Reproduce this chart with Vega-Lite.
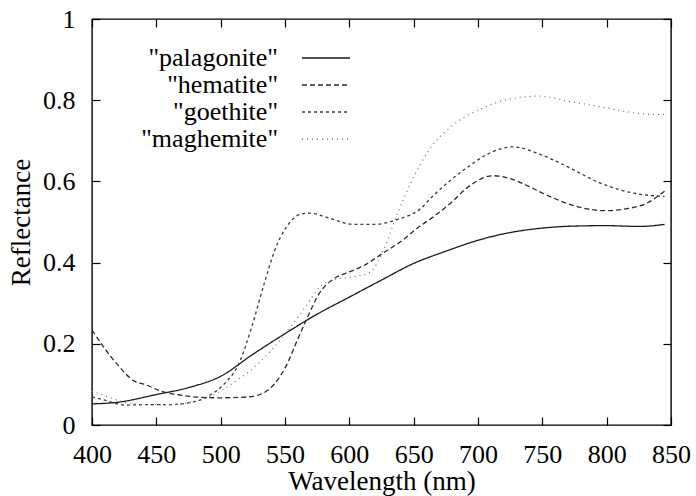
{
  "$schema": "https://vega.github.io/schema/vega-lite/v6.json",
  "width": 579,
  "height": 406,
  "autosize": "none",
  "padding": {"left": 92, "top": 19, "right": 25, "bottom": 71},
  "background": "white",
  "config": {
    "view": {"stroke": "black", "strokeWidth": 1.4},
    "font": "Liberation Serif"
  },
  "data": {
    "values": [
      {"mineral": "palagonite", "wavelength": 400, "reflectance": 0.052},
      {"mineral": "palagonite", "wavelength": 420, "reflectance": 0.056},
      {"mineral": "palagonite", "wavelength": 450, "reflectance": 0.075},
      {"mineral": "palagonite", "wavelength": 475, "reflectance": 0.092},
      {"mineral": "palagonite", "wavelength": 500, "reflectance": 0.12},
      {"mineral": "palagonite", "wavelength": 525, "reflectance": 0.174},
      {"mineral": "palagonite", "wavelength": 550, "reflectance": 0.225},
      {"mineral": "palagonite", "wavelength": 575, "reflectance": 0.273},
      {"mineral": "palagonite", "wavelength": 600, "reflectance": 0.315},
      {"mineral": "palagonite", "wavelength": 625, "reflectance": 0.357},
      {"mineral": "palagonite", "wavelength": 650, "reflectance": 0.398},
      {"mineral": "palagonite", "wavelength": 675, "reflectance": 0.428},
      {"mineral": "palagonite", "wavelength": 700, "reflectance": 0.455},
      {"mineral": "palagonite", "wavelength": 725, "reflectance": 0.474},
      {"mineral": "palagonite", "wavelength": 750, "reflectance": 0.485},
      {"mineral": "palagonite", "wavelength": 775, "reflectance": 0.49},
      {"mineral": "palagonite", "wavelength": 800, "reflectance": 0.491},
      {"mineral": "palagonite", "wavelength": 825, "reflectance": 0.489},
      {"mineral": "palagonite", "wavelength": 845, "reflectance": 0.494},
      {"mineral": "hematite", "wavelength": 400, "reflectance": 0.234},
      {"mineral": "hematite", "wavelength": 410, "reflectance": 0.188},
      {"mineral": "hematite", "wavelength": 420, "reflectance": 0.148},
      {"mineral": "hematite", "wavelength": 433, "reflectance": 0.108},
      {"mineral": "hematite", "wavelength": 441, "reflectance": 0.1},
      {"mineral": "hematite", "wavelength": 454, "reflectance": 0.083},
      {"mineral": "hematite", "wavelength": 470, "reflectance": 0.073},
      {"mineral": "hematite", "wavelength": 485, "reflectance": 0.068},
      {"mineral": "hematite", "wavelength": 500, "reflectance": 0.067},
      {"mineral": "hematite", "wavelength": 520, "reflectance": 0.069},
      {"mineral": "hematite", "wavelength": 532, "reflectance": 0.077},
      {"mineral": "hematite", "wavelength": 542, "reflectance": 0.102},
      {"mineral": "hematite", "wavelength": 550, "reflectance": 0.14},
      {"mineral": "hematite", "wavelength": 560, "reflectance": 0.212},
      {"mineral": "hematite", "wavelength": 567, "reflectance": 0.262},
      {"mineral": "hematite", "wavelength": 577, "reflectance": 0.326},
      {"mineral": "hematite", "wavelength": 588, "reflectance": 0.36},
      {"mineral": "hematite", "wavelength": 600, "reflectance": 0.377},
      {"mineral": "hematite", "wavelength": 612, "reflectance": 0.394},
      {"mineral": "hematite", "wavelength": 626, "reflectance": 0.423},
      {"mineral": "hematite", "wavelength": 640, "reflectance": 0.452},
      {"mineral": "hematite", "wavelength": 655, "reflectance": 0.49},
      {"mineral": "hematite", "wavelength": 665, "reflectance": 0.512},
      {"mineral": "hematite", "wavelength": 680, "reflectance": 0.55},
      {"mineral": "hematite", "wavelength": 691, "reflectance": 0.583},
      {"mineral": "hematite", "wavelength": 712, "reflectance": 0.614},
      {"mineral": "hematite", "wavelength": 725, "reflectance": 0.607},
      {"mineral": "hematite", "wavelength": 740, "reflectance": 0.587},
      {"mineral": "hematite", "wavelength": 753, "reflectance": 0.567},
      {"mineral": "hematite", "wavelength": 777, "reflectance": 0.538},
      {"mineral": "hematite", "wavelength": 798, "reflectance": 0.528},
      {"mineral": "hematite", "wavelength": 816, "reflectance": 0.533},
      {"mineral": "hematite", "wavelength": 831, "reflectance": 0.546},
      {"mineral": "hematite", "wavelength": 845, "reflectance": 0.576},
      {"mineral": "goethite", "wavelength": 400, "reflectance": 0.069},
      {"mineral": "goethite", "wavelength": 410, "reflectance": 0.061},
      {"mineral": "goethite", "wavelength": 426, "reflectance": 0.049},
      {"mineral": "goethite", "wavelength": 441, "reflectance": 0.05},
      {"mineral": "goethite", "wavelength": 457, "reflectance": 0.05},
      {"mineral": "goethite", "wavelength": 472, "reflectance": 0.053},
      {"mineral": "goethite", "wavelength": 488, "reflectance": 0.067},
      {"mineral": "goethite", "wavelength": 503, "reflectance": 0.102},
      {"mineral": "goethite", "wavelength": 514, "reflectance": 0.15},
      {"mineral": "goethite", "wavelength": 524, "reflectance": 0.24},
      {"mineral": "goethite", "wavelength": 534, "reflectance": 0.35},
      {"mineral": "goethite", "wavelength": 542, "reflectance": 0.43},
      {"mineral": "goethite", "wavelength": 551, "reflectance": 0.487},
      {"mineral": "goethite", "wavelength": 561, "reflectance": 0.518},
      {"mineral": "goethite", "wavelength": 569, "reflectance": 0.522},
      {"mineral": "goethite", "wavelength": 585, "reflectance": 0.509},
      {"mineral": "goethite", "wavelength": 603, "reflectance": 0.494},
      {"mineral": "goethite", "wavelength": 619, "reflectance": 0.494},
      {"mineral": "goethite", "wavelength": 637, "reflectance": 0.506},
      {"mineral": "goethite", "wavelength": 655, "reflectance": 0.532},
      {"mineral": "goethite", "wavelength": 665, "reflectance": 0.564},
      {"mineral": "goethite", "wavelength": 691, "reflectance": 0.633},
      {"mineral": "goethite", "wavelength": 712, "reflectance": 0.674},
      {"mineral": "goethite", "wavelength": 727, "reflectance": 0.685},
      {"mineral": "goethite", "wavelength": 748, "reflectance": 0.667},
      {"mineral": "goethite", "wavelength": 769, "reflectance": 0.637},
      {"mineral": "goethite", "wavelength": 795, "reflectance": 0.596},
      {"mineral": "goethite", "wavelength": 821, "reflectance": 0.571},
      {"mineral": "goethite", "wavelength": 845, "reflectance": 0.563},
      {"mineral": "maghemite", "wavelength": 400, "reflectance": 0.083},
      {"mineral": "maghemite", "wavelength": 410, "reflectance": 0.072},
      {"mineral": "maghemite", "wavelength": 426, "reflectance": 0.056},
      {"mineral": "maghemite", "wavelength": 446, "reflectance": 0.05},
      {"mineral": "maghemite", "wavelength": 462, "reflectance": 0.05},
      {"mineral": "maghemite", "wavelength": 478, "reflectance": 0.057},
      {"mineral": "maghemite", "wavelength": 493, "reflectance": 0.072},
      {"mineral": "maghemite", "wavelength": 509, "reflectance": 0.102},
      {"mineral": "maghemite", "wavelength": 529, "reflectance": 0.151},
      {"mineral": "maghemite", "wavelength": 549, "reflectance": 0.219},
      {"mineral": "maghemite", "wavelength": 567, "reflectance": 0.296},
      {"mineral": "maghemite", "wavelength": 577, "reflectance": 0.34},
      {"mineral": "maghemite", "wavelength": 588, "reflectance": 0.358},
      {"mineral": "maghemite", "wavelength": 603, "reflectance": 0.365},
      {"mineral": "maghemite", "wavelength": 616, "reflectance": 0.376},
      {"mineral": "maghemite", "wavelength": 626, "reflectance": 0.427},
      {"mineral": "maghemite", "wavelength": 638, "reflectance": 0.526},
      {"mineral": "maghemite", "wavelength": 655, "reflectance": 0.641},
      {"mineral": "maghemite", "wavelength": 665, "reflectance": 0.69},
      {"mineral": "maghemite", "wavelength": 678, "reflectance": 0.732},
      {"mineral": "maghemite", "wavelength": 704, "reflectance": 0.781},
      {"mineral": "maghemite", "wavelength": 725, "reflectance": 0.803},
      {"mineral": "maghemite", "wavelength": 748, "reflectance": 0.81},
      {"mineral": "maghemite", "wavelength": 769, "reflectance": 0.798},
      {"mineral": "maghemite", "wavelength": 800, "reflectance": 0.781},
      {"mineral": "maghemite", "wavelength": 821, "reflectance": 0.769},
      {"mineral": "maghemite", "wavelength": 836, "reflectance": 0.765},
      {"mineral": "maghemite", "wavelength": 845, "reflectance": 0.765}
    ]
  },
  "layer": [
    {
      "mark": {"type": "line", "interpolate": "monotone", "strokeWidth": 1.3},
      "encoding": {
        "x": {
          "field": "wavelength", "type": "quantitative",
          "scale": {"domain": [400, 850], "nice": false, "zero": false},
          "axis": {
            "orient": "bottom", "values": [400, 450, 500, 550, 600, 650, 700, 750, 800, 850],
            "offset": -8, "tickSize": 8, "tickColor": "black", "tickWidth": 1.2, "domain": false,
            "grid": false, "labelFont": "Liberation Serif", "labelFontSize": 26, "labelColor": "black",
            "labelPadding": 16, "labelFlush": false,
            "title": "Wavelength (nm)", "titleFont": "Liberation Serif", "titleFontSize": 27,
            "titleFontWeight": "normal", "titleColor": "black", "titlePadding": 1
          }
        },
        "y": {
          "field": "reflectance", "type": "quantitative",
          "scale": {"domain": [0, 1], "nice": false},
          "axis": {
            "orient": "left", "values": [0, 0.2, 0.4, 0.6, 0.8, 1], "format": "~g",
            "offset": -8, "tickSize": 8, "tickColor": "black", "tickWidth": 1.2, "domain": false,
            "grid": false, "labelFont": "Liberation Serif", "labelFontSize": 26, "labelColor": "black",
            "labelPadding": 17, "labelFlush": false,
            "title": "Reflectance", "titleFont": "Liberation Serif", "titleFontSize": 27,
            "titleFontWeight": "normal", "titleColor": "black", "titlePadding": 7
          }
        },
        "strokeDash": {
          "field": "mineral", "type": "nominal",
          "scale": {
            "domain": ["palagonite", "hematite", "goethite", "maghemite"],
            "range": [[1, 0], [5, 3], [3, 3], [1, 4]]
          },
          "legend": {
            "orient": "none", "legendX": 221, "legendY": 26, "title": null, "padding": 0,
            "symbolType": "M-2,0H2", "symbolSize": 576, "symbolStrokeWidth": 1.3, "symbolFillColor": "transparent",
            "labelFont": "Liberation Serif", "labelFontSize": 26, "labelColor": "black",
            "labelAlign": "right", "labelOffset": -61, "rowPadding": 1,
            "labelExpr": "'\"' + datum.label + '\"'"
          }
        },
        "color": {
          "field": "mineral", "type": "nominal",
          "scale": {
            "domain": ["palagonite", "hematite", "goethite", "maghemite"],
            "range": ["#1a1a1a", "#2a2a2a", "#3a3a3a", "#777777"]
          },
          "legend": {
            "orient": "none", "legendX": 221, "legendY": 26, "title": null, "padding": 0,
            "symbolType": "M-2,0H2", "symbolSize": 576, "symbolStrokeWidth": 1.3, "symbolFillColor": "transparent",
            "labelFont": "Liberation Serif", "labelFontSize": 26, "labelColor": "black",
            "labelAlign": "right", "labelOffset": -61, "rowPadding": 1,
            "labelExpr": "'\"' + datum.label + '\"'"
          }
        }
      }
    },
    {
      "mark": {"type": "line", "opacity": 0},
      "encoding": {
        "x": {
          "field": "wavelength", "type": "quantitative",
          "axis": {
            "orient": "top", "values": [400, 450, 500, 550, 600, 650, 700, 750, 800, 850],
            "offset": -8, "tickSize": 8, "tickColor": "black", "tickWidth": 1.2, "domain": false,
            "grid": false, "labels": false, "title": null
          }
        },
        "y": {
          "field": "reflectance", "type": "quantitative",
          "axis": {
            "orient": "right", "values": [0, 0.2, 0.4, 0.6, 0.8, 1],
            "offset": -8, "tickSize": 8, "tickColor": "black", "tickWidth": 1.2, "domain": false,
            "grid": false, "labels": false, "title": null
          }
        }
      }
    }
  ],
  "resolve": {"axis": {"x": "independent", "y": "independent"}}
}
